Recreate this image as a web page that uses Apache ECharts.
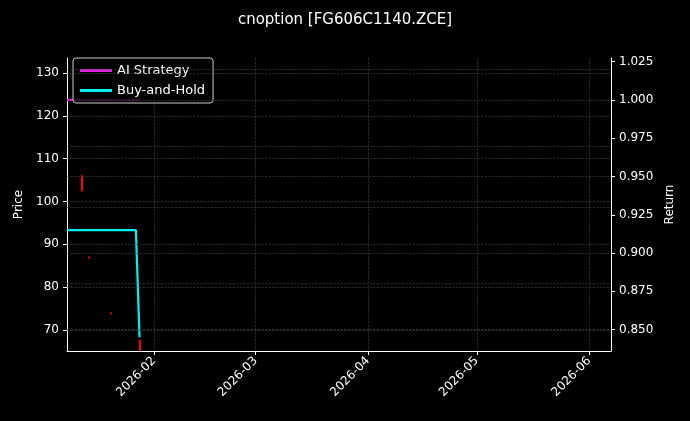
<!DOCTYPE html>
<html><head><meta charset="utf-8">
<script src="https://cdn.jsdelivr.net/npm/echarts@6/dist/echarts.min.js"></script>
<style>html,body{margin:0;background:#000}#c{width:690px;height:421px}</style>
</head><body><div id="c"></div>
<script>
const days = ['2026-01-08','2026-01-09','2026-01-12','2026-01-13','2026-01-14','2026-01-15','2026-01-16','2026-01-19','2026-01-20','2026-01-21','2026-01-22','2026-01-23','2026-01-26','2026-01-27','2026-01-28'];
const strategy = [1,1,1,1,1,1,1,1,1,1,1,1,1,1,1];
const buyHold = [0.915,0.915,0.915,0.915,0.915,0.915,0.915,0.915,0.915,0.915,0.915,0.915,0.915,0.915,0.845];
// price bars: [date, open, close, low, high]
const priceBars = [['2026-01-12',106,102.5,102.3,106.2],['2026-01-14',87,86.8,86.7,87.1],['2026-01-20',74,73.8,73.7,74.1],['2026-01-28',67.5,65.3,65,67.8]];
const priceTicks = [70,80,90,100,110,120,130];
const returnTicks = [0.85,0.875,0.9,0.925,0.95,0.975,1.0,1.025];
const txt = '#ffffff', font = 'DejaVu Sans';
const gridStyle = {color:'#444',type:'dashed',width:0.6};
const chart = echarts.init(document.getElementById('c'));
chart.setOption({
  backgroundColor:'#000',
  animation:false,
  title:{text:'cnoption [FG606C1140.ZCE]',left:'center',top:8,textStyle:{color:txt,fontFamily:font,fontSize:15,fontWeight:'normal'}},
  legend:{left:73,top:58,orient:'vertical',itemWidth:32,itemHeight:3,itemGap:7,padding:[6,8,6,7],
    backgroundColor:'rgba(0,0,0,0.8)',borderColor:'#ccc',borderWidth:1,borderRadius:3,
    textStyle:{color:txt,fontFamily:font,fontSize:13},icon:'rect',
    data:[{name:'AI Strategy'},{name:'Buy-and-Hold'}]},
  grid:{left:67,right:79,top:58,bottom:70},
  xAxis:{type:'time',min:'2026-01-08',max:'2026-06-07',
    axisLine:{lineStyle:{color:'#fff'}},axisTick:{lineStyle:{color:'#fff'},length:4},
    splitLine:{show:true,lineStyle:gridStyle},
    axisLabel:{color:txt,fontFamily:font,fontSize:12,rotate:45,
      formatter:v=>{const d=new Date(v);return d.getUTCDate()===1?d.getUTCFullYear()+'-'+String(d.getUTCMonth()+1).padStart(2,'0'):'';}},
    minInterval:28*86400000,splitNumber:5},
  yAxis:[
    {type:'value',name:'Price',nameLocation:'middle',nameGap:38,nameTextStyle:{color:txt,fontFamily:font,fontSize:12},
     min:65.1,max:133.5,
     axisLine:{show:true,lineStyle:{color:'#fff'}},
     axisLabel:{color:txt,fontFamily:font,fontSize:12,customValues:priceTicks},
     axisTick:{show:true,customValues:priceTicks,length:4},
     splitLine:{show:false}},
    {type:'value',name:'Return',nameLocation:'middle',nameGap:50,nameTextStyle:{color:txt,fontFamily:font,fontSize:12},
     min:0.836,max:1.0274,position:'right',
     axisLine:{show:true,lineStyle:{color:'#fff'}},
     axisLabel:{color:txt,fontFamily:font,fontSize:12,customValues:returnTicks,formatter:v=>v.toFixed(3)},
     axisTick:{show:true,customValues:returnTicks,length:4},
     splitLine:{show:false}}
  ],
  series:[
    {type:'line',name:'gridP',yAxisIndex:0,data:[],silent:true,
     markLine:{silent:true,symbol:'none',label:{show:false},lineStyle:gridStyle,data:priceTicks.map(v=>({yAxis:v}))}},
    {type:'line',name:'gridR',yAxisIndex:1,data:[],silent:true,
     markLine:{silent:true,symbol:'none',label:{show:false},lineStyle:gridStyle,data:returnTicks.map(v=>({yAxis:v}))}},
    {type:'candlestick',name:'Price',yAxisIndex:0,barWidth:1.5,
     itemStyle:{color:'#ff0000',color0:'#ff0000',borderColor:'#ff0000',borderColor0:'#ff0000'},
     data:priceBars.map(b=>[b[0],b[1],b[2],b[3],b[4]])},
    {type:'line',name:'AI Strategy',yAxisIndex:1,showSymbol:false,lineStyle:{color:'#e020e0',width:2.2},itemStyle:{color:'#e020e0'},
     data:days.map((d,i)=>[d,strategy[i]])},
    {type:'line',name:'Buy-and-Hold',yAxisIndex:1,showSymbol:false,lineStyle:{color:'#00f0f0',width:2.2},itemStyle:{color:'#00f0f0'},
     data:days.map((d,i)=>[d,buyHold[i]])}
  ]
});
</script></body></html>
